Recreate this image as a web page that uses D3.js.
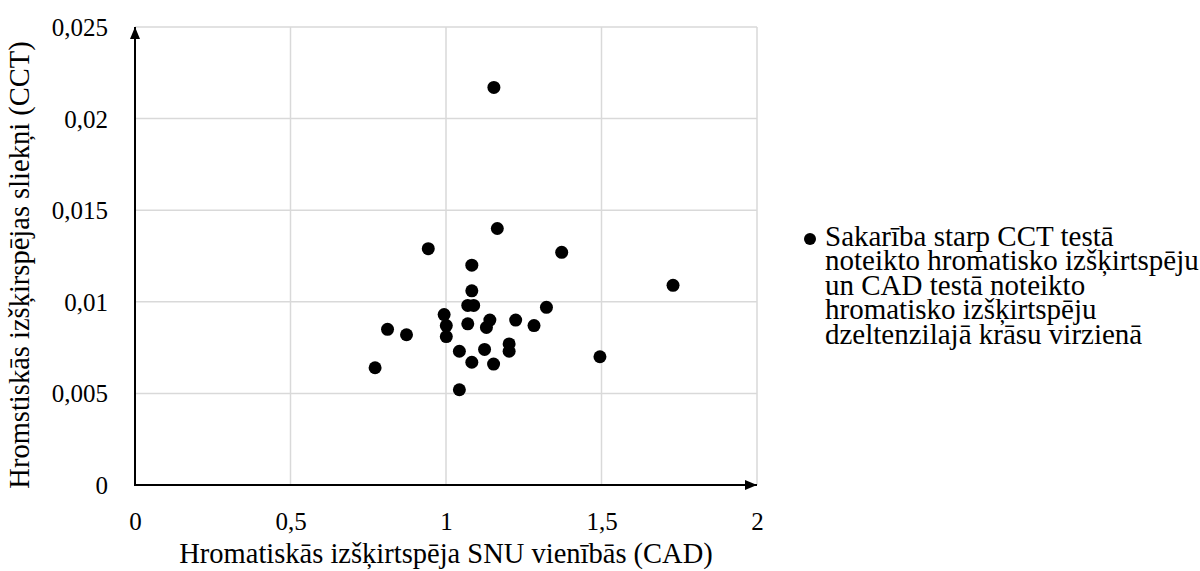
<!DOCTYPE html>
<html>
<head>
<meta charset="utf-8">
<script src="https://cdn.jsdelivr.net/npm/d3@7"></script>
<style>
  html, body { margin: 0; padding: 0; background: #fff; }
  svg { display: block; font-family: "Liberation Serif", "Times New Roman", serif; }
</style>
</head>
<body>
<svg id="chart" width="1200" height="571"></svg>
<script>
// CAD chromatic discrimination (SNU units)
const cadValues = [1.154, 1.165, 0.943, 1.372, 1.083, 1.730, 1.083, 1.070, 1.089, 1.323,
                   0.994, 1.141, 1.224, 1.001, 1.070, 1.130, 1.283, 0.812, 0.873, 1.001,
                   1.203, 1.043, 1.124, 1.203, 1.495, 1.083, 1.153, 0.772, 1.043];
// CCT chromatic discrimination thresholds
const cctValues = [0.0217, 0.0140, 0.0129, 0.0127, 0.0120, 0.0109, 0.0106, 0.0098, 0.0098, 0.0097,
                   0.0093, 0.0090, 0.0090, 0.0087, 0.0088, 0.0086, 0.0087, 0.0085, 0.0082, 0.0081,
                   0.0077, 0.0073, 0.0074, 0.0073, 0.0070, 0.0067, 0.0066, 0.0064, 0.0052];

const xTicks = [0, 0.5, 1, 1.5, 2];
const xTickLabels = ["0", "0,5", "1", "1,5", "2"];
const yTicks = [0, 0.005, 0.01, 0.015, 0.02, 0.025];
const yTickLabels = ["0", "0,005", "0,01", "0,015", "0,02", "0,025"];

const xTitle = "Hromatiskās izšķirtspēja SNU vienībās (CAD)";
const yTitle = "Hromstiskās izšķirspējas sliekņi (CCT)";
const legendLines = [
  "Sakarība starp CCT testā",
  "noteikto hromatisko izšķirtspēju",
  "un CAD testā noteikto",
  "hromatisko izšķirtspēju",
  "dzeltenzilajā krāsu virzienā"
];

const svg = d3.select("#chart");
const plot = { left: 135, right: 757, top: 27, bottom: 485 };
const tickFont = 25, titleFont = 28.5, legendFont = 29;

const x = d3.scaleLinear().domain([0, 2]).range([plot.left, plot.right]);
const y = d3.scaleLinear().domain([0, 0.025]).range([plot.bottom, plot.top]);

// gridlines
const grid = svg.append("g");
grid.selectAll("line.v").data(xTicks.slice(1)).join("line").attr("class", "v")
  .attr("x1", d => x(d)).attr("x2", d => x(d))
  .attr("y1", y(0)).attr("y2", y(0.025))
  .attr("stroke", "#d9d9d9").attr("stroke-width", 1.5);
grid.selectAll("line.h").data(yTicks.slice(1)).join("line").attr("class", "h")
  .attr("x1", x(0)).attr("x2", x(2))
  .attr("y1", d => y(d)).attr("y2", d => y(d))
  .attr("stroke", "#d9d9d9").attr("stroke-width", 1.5);

// tick labels through d3 axis generators; domain paths removed
const xAxis = svg.append("g").attr("transform", `translate(0,${plot.bottom})`)
  .call(d3.axisBottom(x).tickValues(xTicks).tickSize(0).tickPadding(27)
        .tickFormat((d, i) => xTickLabels[i]));
const yAxis = svg.append("g").attr("transform", `translate(${plot.left},0)`)
  .call(d3.axisLeft(y).tickValues(yTicks).tickSize(0).tickPadding(27)
        .tickFormat((d, i) => yTickLabels[i]));
[xAxis, yAxis].forEach(a => {
  a.select(".domain").remove();
  a.selectAll("text").attr("font-family", "Liberation Serif").attr("font-size", tickFont).attr("fill", "#000");
});
xAxis.selectAll("text").attr("dy", "0.71em");
yAxis.selectAll("text").attr("dy", "0.34em");

// axis lines with arrowheads
const defs = svg.append("defs");
defs.append("marker").attr("id", "arrow")
  .attr("viewBox", "0 0 12 10").attr("refX", 12).attr("refY", 5)
  .attr("markerWidth", 12).attr("markerHeight", 10)
  .attr("markerUnits", "userSpaceOnUse").attr("orient", "auto")
  .append("path").attr("d", "M0,0 L12,5 L0,10 Z").attr("fill", "#000");

svg.append("line").attr("x1", x(0)).attr("y1", y(0)).attr("x2", x(2)).attr("y2", y(0))
  .attr("stroke", "#000").attr("stroke-width", 2).attr("marker-end", "url(#arrow)");
svg.append("line").attr("x1", x(0)).attr("y1", y(0) + 1).attr("x2", x(0)).attr("y2", y(0.025))
  .attr("stroke", "#000").attr("stroke-width", 2).attr("marker-end", "url(#arrow)");

// points
svg.append("g").selectAll("circle").data(cadValues.map((v, i) => [v, cctValues[i]])).join("circle")
  .attr("cx", d => x(d[0])).attr("cy", d => y(d[1])).attr("r", 6.5).attr("fill", "#000");

// axis titles
svg.append("text").attr("x", (plot.left + plot.right) / 2).attr("y", 556)
  .attr("text-anchor", "middle").attr("dominant-baseline", "middle")
  .attr("font-size", titleFont).text(xTitle);
svg.append("text").attr("transform", `translate(22,265) rotate(-90)`)
  .attr("text-anchor", "middle").attr("dominant-baseline", "middle")
  .attr("font-size", titleFont).text(yTitle);

// legend: marker plus one multi-line text block
const legend = svg.append("g");
legend.append("circle").attr("cx", 810).attr("cy", 239).attr("r", 6).attr("fill", "#000");
legend.append("text").attr("font-size", legendFont)
  .selectAll("tspan").data(legendLines).join("tspan")
  .attr("x", 825).attr("y", (d, i) => 239 + i * 24.5)
  .attr("dominant-baseline", "middle").text(d => d);
</script>
</body>
</html>
